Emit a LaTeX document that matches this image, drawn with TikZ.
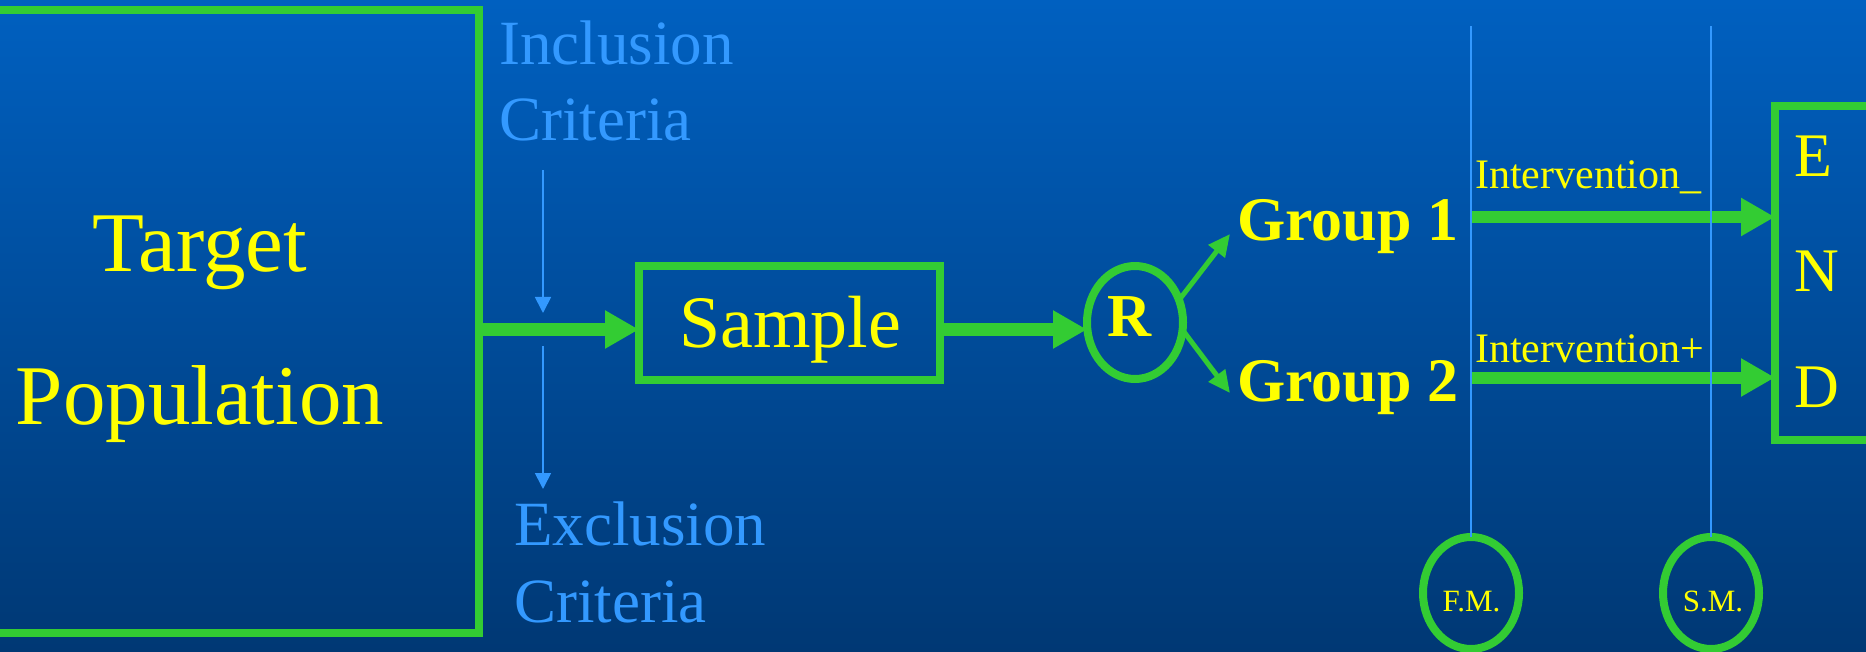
\documentclass[tikz,border=0pt]{standalone}
\usepackage{fontspec}
\setmainfont{Liberation Serif}
\usetikzlibrary{arrows.meta,shapes.geometric}
\definecolor{bgtop}{RGB}{0,96,192}
\definecolor{bgbot}{RGB}{0,56,116}
\definecolor{grn}{RGB}{51,204,51}
\definecolor{ylw}{RGB}{255,255,0}
\definecolor{lblue}{RGB}{51,153,255}
\begin{document}
\begin{tikzpicture}[x=1pt,y=-1pt,
  box/.style={draw=grn, line width=8pt, rectangle, inner sep=0pt, outer sep=0pt},
  ring/.style={draw=grn, line width=8pt, ellipse, inner sep=0pt, outer sep=0pt},
  bigarrow/.style={draw=grn, line width=12pt, -{Triangle[length=34pt,width=36pt]}},
  medarrow/.style={draw=grn, line width=5pt, -{Triangle[length=22pt,width=20pt]}},
  thinarrow/.style={draw=lblue, line width=1.7pt, -{Triangle[length=16pt,width=16pt]}},
  vline/.style={draw=lblue, line width=1.6pt},
  ytext/.style={text=ylw, inner sep=0pt},
  ctext/.style={text=lblue, inner sep=0pt, anchor=base west, font=\fontsize{63}{63}\selectfont},
]
\useasboundingbox (0,0) rectangle (1866,652);
\clip (0,0) rectangle (1866,652);
\fill[top color=bgtop, bottom color=bgbot] (0,0) rectangle (1866,652);

% Target population box
\node[box, minimum width=510pt, minimum height=623pt] (tp) at (224,321.5) {};
\node[ytext, anchor=base, font=\fontsize{85}{85}\selectfont] (t1) at (200,272) {Target};
\node[ytext, anchor=base, font=\fontsize{85}{85}\selectfont] (t2) at (200,424) {Population};

% criteria
\node[ctext] (inc1) at (499,64.5) {Inclusion};
\node[ctext] (inc2) at (499,141) {Criteria};
\node[ctext] (exc1) at (514,545) {Exclusion};
\node[ctext] (exc2) at (514,622) {Criteria};
\coordinate (ia) at (543,170);
\coordinate (ib) at (543,313);
\coordinate (ea) at (543,346);
\coordinate (eb) at (543,489);
\draw[thinarrow] (ia) -- (ib);
\draw[thinarrow] (ea) -- (eb);

% sample
\node[box, minimum width=301pt, minimum height=114pt] (sample) at (789.5,323) {};
\node[ytext, anchor=base, font=\fontsize{74}{74}\selectfont] (st) at (790,347) {Sample};
\draw[bigarrow] (tp.east |- 0,329.5) -- (sample.west |- 0,329.5);

% randomisation
\node[ring, minimum width=96pt, minimum height=113pt] (R) at (1135,322.5) {};
\node[ytext, anchor=base, font=\fontsize{61}{61}\selectfont\bfseries] (rt) at (1130,337) {R};
\draw[bigarrow] (sample.east |- 0,329.5) -- (R.west |- 0,329.5);

% groups
\node[ytext, anchor=base west, inner xsep=7pt, font=\fontsize{62}{62}\selectfont\bfseries] (g1) at (1230,241) {Group 1};
\node[ytext, anchor=base west, inner xsep=7pt, font=\fontsize{62}{62}\selectfont\bfseries] (g2) at (1230,401) {Group 2};
\draw[medarrow] (R.27) -- (g1.west |- 0,234);
\draw[medarrow] (R.-9) -- (g2.west |- 0,393);

% END box
\node[box, minimum width=125pt, minimum height=334pt] (endb) at (1837.5,273) {};
\node[ytext, anchor=base west, font=\fontsize{62}{62}\selectfont] (e1) at (1794,177) {E};
\node[ytext, anchor=base west, font=\fontsize{62}{62}\selectfont] (e2) at (1794,292) {N};
\node[ytext, anchor=base west, font=\fontsize{62}{62}\selectfont] (e3) at (1794,407) {D};

% follow-up markers
\node[ring, minimum width=96pt, minimum height=112pt] (fm) at (1471,593) {};
\node[ring, minimum width=96pt, minimum height=112pt] (sm) at (1711,593) {};
\node[ytext, anchor=base, font=\fontsize{31}{31}\selectfont] (fmt) at (1471.5,611) {F.M.};
\node[ytext, anchor=base, font=\fontsize{31}{31}\selectfont] (smt) at (1713,611) {S.M.};
\coordinate (fmtop) at (1471,26);
\coordinate (smtop) at (1711,26);

% interventions
\draw[bigarrow] (fm.north |- 0,217) -- (endb.west |- 0,217);
\draw[bigarrow] (fm.north |- 0,377.5) -- (endb.west |- 0,377.5);
\node[ytext, anchor=base west, font=\fontsize{42}{42}\selectfont] (i1) at (1475,189) {Intervention\_};
\node[ytext, anchor=base west, font=\fontsize{42}{42}\selectfont] (i2) at (1475,362) {Intervention+};

\draw[vline] (fmtop) -- (fm.north);
\draw[vline] (smtop) -- (sm.north);
\end{tikzpicture}
\end{document}
